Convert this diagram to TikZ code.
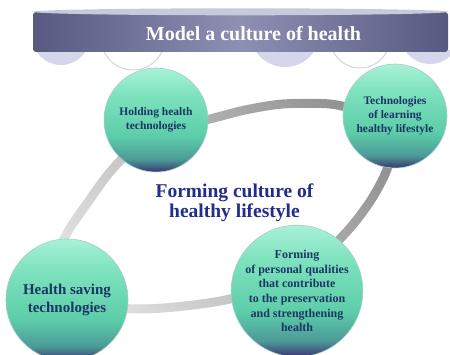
\documentclass[tikz,border=0pt]{standalone}
\usepackage{fontspec}
\setmainfont{Liberation Serif}
\usetikzlibrary{positioning,fadings}

\definecolor{slate}{HTML}{575980}
\definecolor{slatelight}{HTML}{8D8FB3}
\definecolor{rim}{HTML}{C8C9DD}
\definecolor{lavender}{HTML}{D6D6EA}
\definecolor{arcgray}{HTML}{D4D4D4}
\definecolor{mintTop}{HTML}{A8F2D8}
\definecolor{mintUp}{HTML}{7EE2BE}
\definecolor{mintMid}{HTML}{5CCDA8}
\definecolor{mintLow}{HTML}{4C9A98}
\definecolor{mintBot}{HTML}{3B3572}
\definecolor{ringgray}{HTML}{8E8E8E}
\definecolor{navy}{HTML}{1B3565}
\definecolor{indigo}{HTML}{222C8C}

% sphere look: light mint on top, dark violet at the bottom
\pgfdeclareverticalshading{sphereshade}{100bp}{color(0bp)=(mintBot); color(25bp)=(mintBot); color(31bp)=(mintLow); color(42bp)=(mintMid); color(62bp)=(mintUp); color(75bp)=(mintTop); color(100bp)=(mintTop)}

\tikzset{
    sphere/.style = {circle, shade, shading=sphereshade, draw=mintLow!50, line width=0.6pt,
                     text=navy, align=center, inner sep=0pt,
                     font=\bfseries\fontsize{11.5}{14}\selectfont},
    banner/.style = {rectangle, rounded corners=3pt, minimum width=415pt, minimum height=40pt,
                     left color=slate, right color=slate, middle color=slatelight},
    bump/.style = {fill=lavender},
    arcline/.style = {draw=arcgray, line width=1pt},
    ring/.style = {draw=ringgray, line width=9pt},
}

\begin{document}
\begin{tikzpicture}[x=1pt, y=1pt]
\useasboundingbox (0,0) rectangle (450,354);

% Bumps hanging under the banner
\begin{scope}
    \clip (0,0) rectangle (450,303);
    \fill[bump] (61,318) circle (29);
    \fill[bump] (285,322) circle (35);
    \fill[bump] (430,320) circle (30);
    \draw[arcline] (133,316) circle (32);
    \draw[arcline] (360,316) circle (30);
\end{scope}

% Banner
\node[banner] (bar) at (240.5,322) {};
\fill[rim] (bar.north) ellipse [x radius=207.5, y radius=3.5];
\node[text=white, font=\bfseries\fontsize{20}{22}\selectfont] (model) at (253.5,320) {Model a culture of health};

% Ring around the centre, lighter towards the lower left
\draw[ring] plot[smooth cycle] coordinates {
    (210,235) (245,244) (283,250) (330,250) (362,242) (383,229) (392,207)
    (386,182) (371,154) (350,126) (320,96) (280,70) (230,55) (185,48)
    (140,45) (100,49) (68,69) (58,96) (67,121) (88,152) (110,182)
    (135,207) (170,226)};
\fill[white, opacity=0.8, path fading=east, fading angle=25] (20,20) rectangle (420,270);

% Spheres on the ring
\node[sphere, minimum size=104pt] (holding) at (156,234) {Holding health\\technologies};
\node[sphere, minimum size=104pt] (learning) at (395,238) {Technologies\\of learning\\healthy lifestyle};
\node[sphere, minimum size=122pt, font=\bfseries\fontsize{15}{18}\selectfont] (saving) at (67,54) {Health saving\\technologies};
\node[sphere, minimum size=112pt, font=\bfseries\fontsize{12}{14.6}\selectfont] (qualities) at (297,63)
    {Forming\\of personal qualities\\that contribute\\to the preservation\\and strengthening\\health};

% Centre caption
\node[text=indigo, align=center, font=\bfseries\fontsize{19.5}{20}\selectfont] (culture) at (234.5,151)
    {Forming culture of\\healthy lifestyle};

\end{tikzpicture}
\end{document}
